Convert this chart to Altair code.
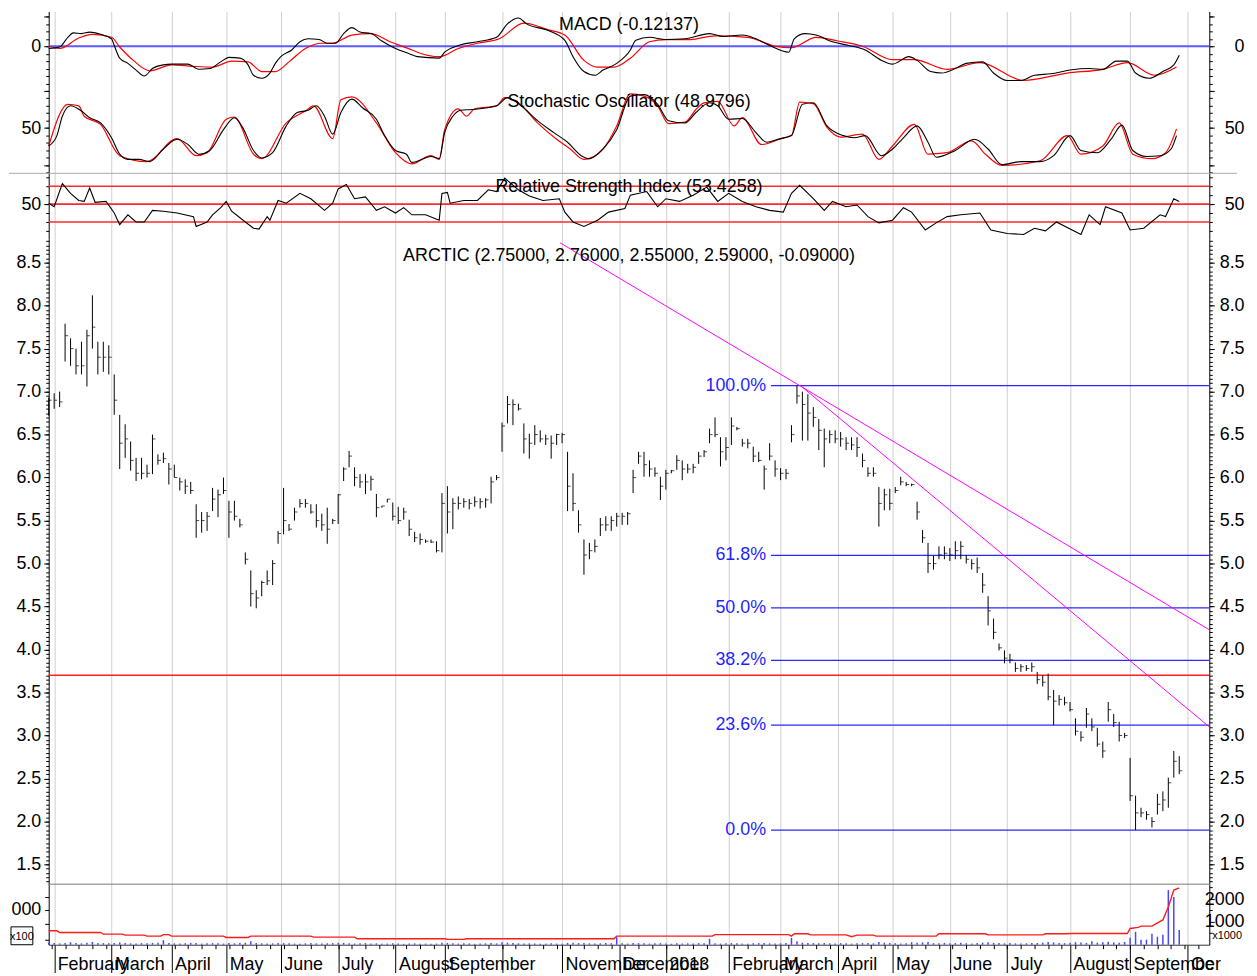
import json
import altair as alt
import pandas as pd

FONT = "Liberation Sans"
W = 1169
H_TOP, H_RSI, H_PRICE, H_VOL = 163, 66, 650, 61
X_DOMAIN = [0, 425]
GRID_COLOR = "#d0d0d0"

# ---------------- data ----------------
# month boundaries (trading-day index) and their labels
month_day = [2, 23, 45, 65, 85, 106, 127, 145, 166, 188, 209, 226, 249, 268, 289, 309, 330, 351, 374, 396, 417]
month_lbl = ["February", "March", "April", "May", "June", "July", "August", "September", "",
             "November", "December", "2013", "February", "March", "April", "May", "June",
             "July", "August", "September", "Oc"]
week_day = list(range(1, 425, 5))

# price bars (every second trading day)
bar_day = list(range(0, 416, 2))
bar_high = [6.93, 6.98, 7.00, 7.79, 7.62, 7.50, 7.58, 7.72, 8.12, 7.58,
            7.58, 7.54, 7.20, 6.73, 6.62, 6.42, 6.23, 6.23, 6.15, 6.50,
            6.27, 6.29, 6.17, 6.15, 6.00, 5.98, 5.95, 5.69, 5.60, 5.60,
            5.88, 5.86, 6.00, 5.73, 5.73, 5.52, 5.13, 4.92, 4.69, 4.80,
            4.92, 5.04, 5.38, 5.88, 5.46, 5.65, 5.75, 5.75, 5.69, 5.69,
            5.58, 5.65, 5.52, 5.81, 6.12, 6.31, 6.12, 6.04, 6.04, 6.02,
            5.81, 5.67, 5.75, 5.71, 5.66, 5.65, 5.51, 5.37, 5.35, 5.28,
            5.28, 5.26, 5.82, 5.90, 5.76, 5.78, 5.76, 5.75, 5.78, 5.76,
            5.76, 6.01, 6.03, 6.64, 6.95, 6.91, 6.86, 6.63, 6.51, 6.61,
            6.55, 6.50, 6.49, 6.51, 6.52, 6.30, 6.05, 5.62, 5.28, 5.24,
            5.28, 5.53, 5.55, 5.55, 5.59, 5.59, 5.60, 6.09, 6.30, 6.30,
            6.20, 6.12, 6.01, 6.09, 6.09, 6.26, 6.20, 6.16, 6.16, 6.30,
            6.32, 6.57, 6.70, 6.47, 6.47, 6.70, 6.59, 6.45, 6.45, 6.36,
            6.30, 6.14, 6.40, 6.20, 6.11, 6.10, 6.61, 7.07, 7.00, 6.97,
            6.82, 6.68, 6.57, 6.55, 6.55, 6.53, 6.47, 6.47, 6.47, 6.28,
            6.12, 6.12, 5.89, 5.87, 5.87, 5.89, 6.01, 5.95, 5.93, 5.72,
            5.39, 5.24, 5.09, 5.20, 5.20, 5.18, 5.26, 5.26, 5.10, 5.05,
            5.07, 4.89, 4.62, 4.36, 4.07, 3.99, 3.95, 3.85, 3.83, 3.82,
            3.85, 3.74, 3.70, 3.72, 3.53, 3.47, 3.45, 3.39, 3.20, 3.05,
            3.32, 3.20, 3.09, 2.93, 3.39, 3.25, 3.16, 3.03, 2.74, 2.30,
            2.16, 2.12, 2.05, 2.32, 2.35, 2.51, 2.82, 2.76]
bar_low = [6.72, 6.80, 6.82, 7.35, 7.30, 7.20, 7.20, 7.06, 7.50, 7.20,
           7.23, 7.20, 6.73, 6.10, 6.23, 6.08, 5.96, 5.98, 6.00, 6.04,
           6.15, 6.17, 5.92, 6.00, 5.85, 5.81, 5.81, 5.30, 5.36, 5.38,
           5.61, 5.54, 5.81, 5.30, 5.50, 5.42, 4.99, 4.50, 4.48, 4.62,
           4.75, 4.75, 5.23, 5.34, 5.38, 5.50, 5.65, 5.65, 5.58, 5.42,
           5.38, 5.23, 5.46, 5.46, 5.96, 6.12, 5.90, 5.88, 5.81, 5.85,
           5.54, 5.65, 5.71, 5.50, 5.46, 5.51, 5.32, 5.25, 5.22, 5.24,
           5.24, 5.13, 5.13, 5.35, 5.40, 5.63, 5.65, 5.63, 5.66, 5.64,
           5.65, 5.70, 5.97, 6.30, 6.63, 6.61, 6.78, 6.28, 6.22, 6.38,
           6.41, 6.38, 6.22, 6.38, 6.40, 5.61, 5.61, 5.36, 4.87, 5.05,
           5.13, 5.32, 5.38, 5.38, 5.43, 5.45, 5.45, 5.82, 6.16, 6.01,
           6.01, 6.01, 5.74, 5.86, 6.05, 6.09, 5.97, 6.05, 6.05, 6.16,
           6.24, 6.40, 6.47, 6.13, 6.20, 6.38, 6.55, 6.36, 6.34, 6.18,
           6.18, 5.86, 6.20, 6.01, 5.97, 5.98, 6.41, 6.86, 6.43, 6.43,
           6.59, 6.32, 6.12, 6.40, 6.40, 6.36, 6.32, 6.32, 6.24, 6.12,
           6.01, 6.01, 5.43, 5.62, 5.62, 5.82, 5.91, 5.90, 5.90, 5.51,
           5.24, 4.89, 4.93, 5.05, 5.05, 5.03, 5.05, 5.05, 5.00, 4.93,
           4.89, 4.66, 4.28, 4.12, 3.99, 3.84, 3.84, 3.74, 3.74, 3.75,
           3.74, 3.60, 3.57, 3.41, 3.12, 3.35, 3.35, 3.28, 3.00, 2.93,
           3.09, 3.05, 2.87, 2.74, 3.16, 3.10, 2.93, 2.97, 2.24, 1.90,
           2.05, 2.02, 1.93, 2.08, 2.12, 2.16, 2.51, 2.55]
bar_close = [6.90, 6.90, 6.88, 7.65, 7.50, 7.30, 7.30, 7.65, 7.75, 7.40,
             7.40, 7.40, 6.90, 6.40, 6.45, 6.20, 6.05, 6.05, 6.05, 6.45,
             6.20, 6.22, 6.10, 6.00, 5.95, 5.90, 5.85, 5.50, 5.50, 5.55,
             5.75, 5.80, 5.85, 5.60, 5.55, 5.45, 5.05, 4.65, 4.60, 4.78,
             4.80, 5.00, 5.35, 5.50, 5.40, 5.60, 5.70, 5.70, 5.60, 5.50,
             5.45, 5.40, 5.50, 5.80, 6.10, 6.25, 6.00, 5.95, 5.95, 5.98,
             5.65, 5.67, 5.75, 5.55, 5.50, 5.60, 5.40, 5.30, 5.28, 5.26,
             5.25, 5.15, 5.70, 5.60, 5.70, 5.70, 5.72, 5.70, 5.72, 5.72,
             5.74, 5.95, 6.00, 6.60, 6.85, 6.85, 6.80, 6.45, 6.40, 6.50,
             6.45, 6.45, 6.40, 6.50, 6.50, 5.90, 5.70, 5.45, 5.10, 5.15,
             5.20, 5.45, 5.45, 5.50, 5.55, 5.55, 5.58, 6.00, 6.25, 6.15,
             6.10, 6.05, 5.90, 6.05, 6.08, 6.20, 6.10, 6.10, 6.12, 6.25,
             6.30, 6.50, 6.50, 6.30, 6.35, 6.60, 6.57, 6.40, 6.40, 6.25,
             6.20, 6.10, 6.25, 6.10, 6.05, 6.05, 6.50, 6.95, 6.85, 6.75,
             6.70, 6.55, 6.45, 6.50, 6.45, 6.45, 6.40, 6.38, 6.35, 6.20,
             6.05, 6.05, 5.70, 5.80, 5.70, 5.85, 5.95, 5.92, 5.92, 5.60,
             5.30, 5.00, 5.00, 5.10, 5.12, 5.10, 5.15, 5.20, 5.05, 5.00,
             4.95, 4.75, 4.45, 4.20, 4.02, 3.90, 3.88, 3.78, 3.80, 3.78,
             3.80, 3.65, 3.62, 3.45, 3.40, 3.42, 3.38, 3.30, 3.05, 2.98,
             3.25, 3.10, 2.90, 2.82, 3.30, 3.15, 3.00, 3.00, 2.30, 2.10,
             2.10, 2.08, 2.00, 2.20, 2.25, 2.45, 2.70, 2.59]
bar_volume = [90, 70, 60, 80, 110, 70, 60, 90, 120, 80,
              70, 60, 80, 100, 70, 60, 50, 70, 60, 80,
              90, 200, 70, 60, 50, 60, 80, 70, 50, 60,
              70, 60, 50, 80, 60, 70, 90, 150, 70, 60,
              50, 60, 80, 70, 60, 50, 40, 60, 70, 60,
              50, 60, 70, 90, 80, 60, 50, 60, 70, 50,
              60, 40, 50, 60, 50, 40, 50, 60, 40, 50,
              40, 50, 90, 80, 60, 50, 60, 50, 40, 50,
              60, 70, 60, 110, 90, 70, 60, 50, 60, 50,
              40, 50, 60, 50, 40, 80, 90, 70, 80, 60,
              50, 60, 70, 60, 330, 60, 50, 80, 70, 60,
              50, 60, 70, 50, 40, 60, 50, 60, 50, 70,
              60, 260, 60, 50, 60, 70, 60, 50, 40, 60,
              70, 80, 60, 50, 60, 70, 300, 150, 90, 80,
              70, 60, 80, 60, 50, 70, 60, 50, 60, 70,
              80, 60, 120, 90, 70, 60, 50, 60, 110, 90,
              100, 120, 70, 60, 80, 60, 70, 90, 60, 50,
              70, 90, 110, 80, 70, 60, 70, 60, 50, 60,
              80, 70, 90, 120, 100, 80, 70, 90, 110, 100,
              80, 150, 90, 110, 130, 100, 90, 120, 300, 565,
              217, 220, 480, 350, 435, 2391, 2087, 650]

# MACD line and signal
macd_day = [0, 4, 7, 9, 12, 15, 19, 23, 24, 26, 29, 32, 35, 38, 42, 45, 51, 55, 59, 63,
            66, 70, 73, 75, 78, 81, 83, 85, 89, 92, 95, 99, 102, 105, 108, 111, 114, 118, 122, 127,
            132, 135, 143, 145, 150, 157, 164, 168, 172, 175, 183, 189, 192, 196, 200, 203, 208, 213, 215, 220,
            226, 233, 242, 247, 254, 259, 264, 271, 273, 277, 281, 287, 293, 299, 305, 309, 315, 318, 323, 327,
            332, 336, 342, 346, 351, 356, 361, 367, 374, 381, 386, 391, 395, 398, 403, 408, 412, 414]
macd_val = [-0.03, -0.01, 0.12, 0.18, 0.17, 0.19, 0.16, 0.10, 0.01, -0.16,
            -0.23, -0.32, -0.40, -0.30, -0.25, -0.24, -0.24, -0.31, -0.30, -0.21,
            -0.15, -0.16, -0.25, -0.39, -0.43, -0.36, -0.23, -0.14, -0.05, 0.06,
            0.10, 0.09, 0.04, 0.04, 0.17, 0.25, 0.19, 0.17, 0.07, -0.03,
            -0.10, -0.14, -0.16, -0.08, 0.01, 0.06, 0.12, 0.30, 0.38, 0.30,
            0.21, 0.08, -0.14, -0.34, -0.39, -0.32, -0.23, -0.05, 0.08, 0.12,
            0.09, 0.10, 0.17, 0.13, 0.15, 0.10, 0.01, -0.08, 0.10, 0.17,
            0.15, 0.06, 0.01, -0.05, -0.19, -0.24, -0.14, -0.19, -0.34, -0.36,
            -0.30, -0.23, -0.21, -0.36, -0.46, -0.46, -0.39, -0.37, -0.32, -0.30,
            -0.31, -0.20, -0.20, -0.36, -0.43, -0.34, -0.25, -0.12]
sig_day = [0, 4, 11, 16, 23, 26, 31, 37, 45, 53, 60, 67, 73, 78, 83, 88, 94, 100, 104, 111,
           118, 125, 133, 135, 143, 150, 157, 165, 174, 183, 189, 196, 201, 207, 213, 220, 226, 235, 244, 256,
           266, 272, 281, 289, 298, 309, 317, 329, 341, 357, 373, 386, 395, 405, 413]
sig_val = [0.00, -0.03, 0.11, 0.16, 0.12, -0.01, -0.19, -0.33, -0.25, -0.27,
           -0.28, -0.20, -0.21, -0.34, -0.34, -0.21, -0.03, 0.04, 0.04, 0.15,
           0.17, 0.06, -0.05, -0.08, -0.14, -0.03, 0.04, 0.10, 0.31, 0.22,
           0.15, -0.19, -0.28, -0.28, -0.16, 0.06, 0.09, 0.09, 0.14, 0.12,
           0.00, -0.02, 0.12, 0.07, 0.00, -0.18, -0.18, -0.31, -0.22, -0.46,
           -0.36, -0.31, -0.22, -0.39, -0.28]

# stochastic oscillator (black and red lines)
stk_day = [0, 3, 5, 8, 12, 15, 19, 23, 26, 29, 33, 37, 42, 47, 51, 55, 59, 64, 68, 71,
           75, 78, 82, 87, 91, 95, 98, 101, 104, 107, 111, 115, 120, 123, 127, 131, 133, 140, 143, 145,
           148, 151, 155, 164, 168, 173, 179, 185, 190, 195, 198, 203, 208, 213, 218, 223, 227, 233, 237, 242,
           245, 249, 254, 259, 263, 267, 272, 276, 280, 285, 291, 295, 299, 305, 309, 313, 318, 322, 325, 332,
           339, 344, 349, 356, 363, 368, 374, 378, 384, 389, 393, 397, 402, 407, 411, 413]
stk_val = [26, 40, 66, 80, 73, 64, 57, 37, 15, 8, 8, 5, 22, 35, 28, 15, 20, 48, 64, 51,
           20, 10, 17, 53, 71, 74, 80, 66, 42, 71, 89, 77, 62, 40, 20, 15, 4, 12, 9, 44,
           66, 74, 75, 80, 91, 80, 60, 44, 31, 13, 9, 22, 48, 93, 95, 82, 60, 57, 71, 84,
           80, 62, 63, 44, 31, 35, 40, 82, 84, 53, 40, 37, 40, 13, 22, 37, 53, 31, 11, 20,
           35, 22, 1, 5, 5, 13, 40, 20, 17, 35, 54, 20, 12, 13, 22, 40]
std_day = [0, 7, 11, 13, 19, 26, 36, 47, 54, 58, 65, 68, 75, 78, 87, 94, 97, 104, 107, 111,
           120, 127, 133, 140, 143, 145, 150, 153, 156, 164, 167, 172, 179, 186, 191, 196, 203, 208, 213, 218,
           223, 227, 233, 237, 240, 245, 251, 254, 261, 269, 272, 275, 280, 285, 290, 298, 304, 309, 317, 322,
           329, 338, 343, 349, 363, 373, 378, 386, 392, 397, 404, 409, 413]
std_val = [26, 82, 80, 66, 55, 13, 5, 36, 13, 17, 62, 65, 15, 9, 57, 73, 80, 36, 88, 92,
           57, 17, 2, 13, 8, 48, 76, 66, 76, 80, 91, 84, 57, 35, 22, 8, 22, 53, 96, 93,
           80, 56, 58, 75, 84, 86, 53, 64, 28, 37, 40, 85, 83, 51, 38, 42, 8, 26, 55, 15,
           17, 33, 15, 0, 6, 40, 15, 26, 57, 15, 9, 17, 49]

# relative strength index
rsi_day = [0, 2, 5, 8, 11, 13, 15, 17, 21, 24, 26, 29, 32, 35, 38, 42, 47, 53, 54, 58,
           60, 63, 65, 67, 72, 75, 77, 80, 81, 84, 87, 92, 96, 101, 104, 106, 109, 112, 116, 120,
           123, 127, 130, 133, 138, 143, 144, 146, 147, 152, 157, 161, 164, 167, 172, 176, 181, 187, 189, 192,
           196, 201, 205, 211, 213, 219, 223, 226, 231, 236, 241, 245, 249, 254, 259, 264, 269, 272, 275, 280,
           284, 287, 292, 296, 300, 304, 309, 313, 316, 321, 325, 329, 334, 341, 345, 351, 357, 361, 365, 369,
           378, 381, 385, 387, 393, 396, 401, 407, 409, 412, 414]
rsi_val = [51, 47, 73, 62, 54, 53, 68, 52, 53, 40, 27, 38, 30, 30, 43, 42, 40, 36, 25, 30,
           38, 46, 53, 42, 30, 23, 22, 36, 32, 54, 51, 62, 56, 43, 51, 67, 72, 56, 58, 43,
           47, 40, 46, 38, 38, 32, 62, 63, 51, 54, 54, 66, 64, 79, 66, 59, 54, 56, 41, 30,
           25, 32, 41, 45, 60, 64, 47, 56, 53, 60, 69, 53, 62, 53, 47, 43, 41, 62, 71, 56,
           43, 53, 47, 49, 36, 29, 32, 46, 41, 21, 29, 36, 38, 40, 21, 17, 16, 23, 20, 30,
           16, 38, 27, 47, 40, 21, 23, 38, 36, 56, 53]
rsi_levels = [70, 50, 30]

# volume moving average (x1000)
vma_day = [0, 3, 4, 19, 20, 27, 28, 35, 36, 41, 42, 44, 45, 64, 65, 73, 74, 96, 97, 112,
           113, 145, 146, 152, 153, 207, 208, 243, 244, 271, 272, 273, 278, 279, 292, 294, 296, 302, 303, 325,
           326, 343, 344, 364, 365, 372, 375, 395, 396, 399, 400, 404, 408, 410, 412, 414]
vma_val = [609, 609, 536, 536, 464, 464, 420, 420, 377, 377, 442, 442, 377, 377, 319, 319, 377, 377, 333, 333,
           261, 261, 232, 232, 261, 261, 377, 377, 442, 442, 377, 480, 480, 430, 430, 348, 420, 420, 377, 377,
           478, 478, 430, 430, 480, 480, 493, 493, 710, 760, 812, 812, 1087, 1650, 2390, 2490]

# annotations
price_title = "ARCTIC (2.75000, 2.76000, 2.55000, 2.59000, -0.09000)"
macd_title = "MACD (-0.12137)"
stoch_title = "Stochastic Oscillator (48.9796)"
rsi_title = "Relative Strength Index (53.4258)"
fib_ratio = [1.0, 0.618, 0.5, 0.382, 0.236, 0.0]
fib_label = ["100.0%", "61.8%", "50.0%", "38.2%", "23.6%", "0.0%"]
fib_from_day = 260          # retracement measured over the 2013 swing
fib_start_day = 264.5
support_level = 3.70
trend_id = ["a", "a", "b", "b"]
trend_day = [187.3, 425, 275.3, 425]
trend_price = [8.73, 4.23, 7.07, 3.10]

# ---------------- frames ----------------
bars = pd.DataFrame({"day": bar_day, "high": bar_high, "low": bar_low,
                     "close": bar_close, "vol": bar_volume})
swing = bars[bars["day"] >= fib_from_day]
hi, lo = swing["high"].max(), swing["low"].min()
fib = pd.DataFrame({"level": [lo + r * (hi - lo) for r in fib_ratio], "label": fib_label,
                    "start": fib_start_day, "end": X_DOMAIN[1]})
trend = pd.DataFrame({"id": trend_id, "day": trend_day, "price": trend_price})
macd_df = pd.DataFrame({"day": macd_day, "val": macd_val})
sig_df = pd.DataFrame({"day": sig_day, "val": sig_val})
stk_df = pd.DataFrame({"day": stk_day, "val": stk_val})
std_df = pd.DataFrame({"day": std_day, "val": std_val})
rsi_df = pd.DataFrame({"day": rsi_day, "val": rsi_val})
vma_df = pd.DataFrame({"day": vma_day, "val": vma_val})


# ---------------- helpers ----------------
def ys(domain):
    return alt.Scale(domain=domain, nice=False, zero=False)


XS = alt.Scale(domain=X_DOMAIN, nice=False, zero=False)
GRID_AXIS = alt.Axis(values=month_day, grid=True, gridColor=GRID_COLOR, gridWidth=1,
                     labels=False, ticks=False, domain=False, title=None)


def xg(field="day"):
    return alt.X(f"{field}:Q", scale=XS, axis=GRID_AXIS)


def yaxis(domain, orient, values, size, labels=False, fmt=None, expr=None, line=False):
    kw = dict(orient=orient, values=values, tickSize=size, tickColor="black", tickWidth=1,
              domain=line, domainColor="black", domainWidth=1, grid=False, title=None,
              labels=labels, labelFont=FONT, labelFontSize=18, labelColor="black",
              labelAlign="right",
              labelPadding=(8 - size) if orient == "left" else (35 - size),
              labelOverlap=False, labelFlush=False, minExtent=40, maxExtent=40)
    if fmt:
        kw["format"] = fmt
    if expr:
        kw["labelExpr"] = expr
    return alt.Chart(pd.DataFrame({"v": [domain[0]]})).mark_point(opacity=0).encode(
        y=alt.Y("v:Q", scale=ys(domain), axis=alt.Axis(**kw)))


def title_text(text, ypix):
    return alt.Chart(pd.DataFrame({"t": [text]})).mark_text(
        font=FONT, fontSize=18, color="black", align="center", baseline="middle"
    ).encode(x=alt.value(W / 2), y=alt.value(ypix), text="t:N")


def steps(a, b, s):
    out, v = [], a
    while v <= b + 1e-9:
        out.append(round(v, 4))
        v += s
    return out


# ---------------- top panel: MACD + stochastic ----------------
MACD_D = [-1.7067, 0.4667]
STO_D = [-10.67, 206.67]
macd_minor = steps(-1.7, 0.4, 0.1)
top_layers = [
    yaxis(MACD_D, "left", [0], 5, labels=True, fmt="d", line=True),
    yaxis(MACD_D, "left", [-0.6, 0.4], 5),
    yaxis(MACD_D, "left", macd_minor, 3),
    yaxis(MACD_D, "right", [0], 5, labels=True, fmt="d", line=True),
    yaxis(MACD_D, "right", [-0.6, 0.4], 5),
    yaxis(MACD_D, "right", macd_minor, 3),
    yaxis(STO_D, "left", [50], 5, labels=True, fmt="d"),
    yaxis(STO_D, "left", [0], 5),
    yaxis(STO_D, "right", [50], 5, labels=True, fmt="d"),
    yaxis(STO_D, "right", [0], 5),
    alt.Chart(pd.DataFrame({"v": [0]})).mark_rule(color="#5a5aff", strokeWidth=2.2).encode(
        y=alt.Y("v:Q", scale=ys(MACD_D), axis=None)),
    alt.Chart(sig_df).mark_line(color="#ff0000", strokeWidth=1.2, interpolate="monotone").encode(
        x=xg(), y=alt.Y("val:Q", scale=ys(MACD_D), axis=None)),
    alt.Chart(macd_df).mark_line(color="black", strokeWidth=1.1, interpolate="monotone").encode(
        x=xg(), y=alt.Y("val:Q", scale=ys(MACD_D), axis=None)),
    alt.Chart(std_df).mark_line(color="#ff0000", strokeWidth=1.2, interpolate="monotone").encode(
        x=xg(), y=alt.Y("val:Q", scale=ys(STO_D), axis=None)),
    alt.Chart(stk_df).mark_line(color="black", strokeWidth=1.1, interpolate="monotone").encode(
        x=xg(), y=alt.Y("val:Q", scale=ys(STO_D), axis=None)),
    title_text(macd_title, 14),
    title_text(stoch_title, 91),
]
top = alt.layer(*top_layers).properties(width=W, height=H_TOP).resolve_scale(
    y="independent").resolve_axis(y="independent")

# ---------------- RSI panel ----------------
RSI_D = [11.11, 84.44]
rsi_minor = steps(20, 80, 10)
rsi_layers = [
    yaxis(RSI_D, "left", [50], 5, labels=True, fmt="d", line=True),
    yaxis(RSI_D, "left", rsi_minor, 3),
    yaxis(RSI_D, "right", [50], 5, labels=True, fmt="d", line=True),
    yaxis(RSI_D, "right", rsi_minor, 3),
    alt.Chart(pd.DataFrame({"a": [0]})).mark_rule(color="#a8a8a8", strokeWidth=1).encode(
        x=alt.value(-40), x2=alt.value(W + 28), y=alt.value(0)),
    alt.Chart(pd.DataFrame({"lv": rsi_levels})).mark_rule(color="#ff2a2a", strokeWidth=1.6).encode(
        y=alt.Y("lv:Q", scale=ys(RSI_D), axis=None)),
    alt.Chart(rsi_df).mark_line(color="black", strokeWidth=1.1).encode(
        x=xg(), y=alt.Y("val:Q", scale=ys(RSI_D), axis=None)),
    title_text(rsi_title, 14),
]
rsi = alt.layer(*rsi_layers).properties(width=W, height=H_RSI).resolve_scale(
    y="independent").resolve_axis(y="independent")

# ---------------- price panel ----------------
PRICE_D = [1.271, 8.777]
price_major = steps(1.5, 8.5, 0.5)
price_minor = steps(1.3, 8.75, 0.05)
price_layers = [
    yaxis(PRICE_D, "left", price_major, 5, labels=True, fmt=".1f", line=True),
    yaxis(PRICE_D, "left", price_minor, 3),
    yaxis(PRICE_D, "right", price_major, 5, labels=True, fmt=".1f", line=True),
    yaxis(PRICE_D, "right", price_minor, 3),
    alt.Chart(pd.DataFrame({"lv": [support_level]})).mark_rule(color="#ff2020", strokeWidth=1.5).encode(
        y=alt.Y("lv:Q", scale=ys(PRICE_D), axis=None)),
    alt.Chart(fib).mark_rule(color="#2a2aff", strokeWidth=1.3).encode(
        x=xg("start"), x2="end:Q", y=alt.Y("level:Q", scale=ys(PRICE_D), axis=None)),
    alt.Chart(fib).mark_text(font=FONT, fontSize=18, color="#1f1fff", align="right",
                             baseline="middle", dx=-5).encode(
        x=xg("start"), y=alt.Y("level:Q", scale=ys(PRICE_D), axis=None), text="label:N"),
    alt.Chart(trend).mark_line(color="#ff00ff", strokeWidth=1).encode(
        x=xg(), y=alt.Y("price:Q", scale=ys(PRICE_D), axis=None), detail="id:N"),
    alt.Chart(bars).mark_rule(color="black", strokeWidth=1).encode(
        x=xg(), y=alt.Y("low:Q", scale=ys(PRICE_D), axis=None), y2="high:Q"),
    alt.Chart(bars).mark_tick(color="black", orient="horizontal", size=3, thickness=1,
                              xOffset=1.5).encode(
        x=xg(), y=alt.Y("close:Q", scale=ys(PRICE_D), axis=None)),
    title_text(price_title, 17),
]
price = alt.layer(*price_layers).properties(width=W, height=H_PRICE).resolve_scale(
    y="independent").resolve_axis(y="independent")

# ---------------- volume panel ----------------
VOL_D = [0, 2652]
label_expr = f"{json.dumps(month_lbl)}[indexof({json.dumps(month_day)}, datum.value)]"
BOTTOM_AXIS = alt.Axis(orient="bottom", values=month_day, grid=True, gridColor=GRID_COLOR,
                       gridWidth=1, labels=True, labelExpr=label_expr, labelAlign="left",
                       labelBaseline="alphabetic", labelOffset=3, labelPadding=-3,
                       labelFont=FONT, labelFontSize=18, labelColor="black",
                       labelOverlap=False, labelFlush=False, ticks=True, tickSize=28,
                       tickColor="black", tickWidth=1, domain=True, domainColor="#333333",
                       title=None)
WEEK_AXIS = alt.Axis(orient="bottom", values=week_day, grid=False, labels=False, ticks=True,
                     tickSize=4, tickColor="black", domain=False, title=None)
vol_layers = [
    yaxis(VOL_D, "left", [1522], 4, labels=True, expr="'000'", line=True),
    yaxis(VOL_D, "left", [217, 913, 2087], 4),
    yaxis(VOL_D, "right", [1000, 2000], 5, labels=True, fmt="d", line=True),
    yaxis(VOL_D, "right", [500, 1500, 2500], 3),
    alt.Chart(pd.DataFrame({"a": [0]})).mark_rule(color="#7a7a7a", strokeWidth=1).encode(
        x=alt.value(-1), x2=alt.value(W), y=alt.value(0)),
    alt.Chart(bars).mark_rule(color="#4646ff", strokeWidth=1.5).encode(
        x=alt.X("day:Q", scale=XS, axis=BOTTOM_AXIS),
        y=alt.Y("vol:Q", scale=ys(VOL_D), axis=None), y2=alt.datum(0)),
    alt.Chart(vma_df).mark_line(color="#ff1a1a", strokeWidth=1.4).encode(
        x=alt.X("day:Q", scale=XS, axis=None),
        y=alt.Y("val:Q", scale=ys(VOL_D), axis=None)),
    alt.Chart(pd.DataFrame({"w": [0]})).mark_point(opacity=0).encode(
        x=alt.X("w:Q", scale=XS, axis=WEEK_AXIS)),
    alt.Chart(pd.DataFrame({"a": [0]})).mark_rect(fillOpacity=0, stroke="black", strokeWidth=1).encode(
        x=alt.value(-38), x2=alt.value(-16), y=alt.value(43), y2=alt.value(61)),
    alt.Chart(pd.DataFrame({"t": ["x100"]})).mark_text(
        font=FONT, fontSize=11, color="black", align="center", baseline="middle").encode(
        x=alt.value(-27), y=alt.value(53), text="t:N"),
    alt.Chart(pd.DataFrame({"t": ["x1000"]})).mark_text(
        font=FONT, fontSize=11, color="black", align="left", baseline="middle").encode(
        x=alt.value(W + 3), y=alt.value(52), text="t:N"),
]
vol = alt.layer(*vol_layers).properties(width=W, height=H_VOL).resolve_scale(
    y="independent").resolve_axis(y="independent", x="independent")

chart = alt.vconcat(top, rsi, price, vol, spacing=0, bounds="flush").properties(
    padding=0, background="white").configure_view(stroke=None)

chart.save("out.html", embed_options={"renderer": "svg", "actions": False})
